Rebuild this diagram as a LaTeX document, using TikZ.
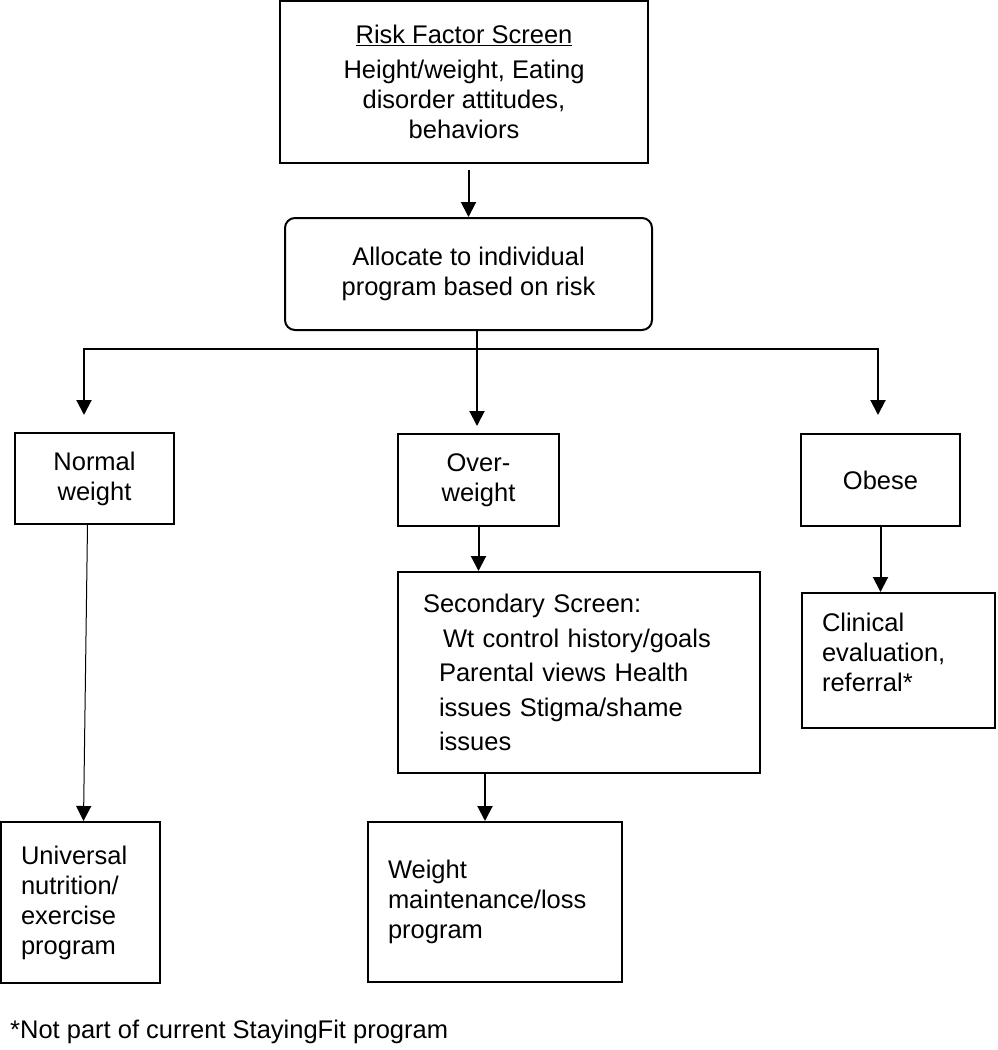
\documentclass[tikz,border=0pt]{standalone}
\usepackage{fontspec}
\setmainfont{Liberation Sans}
\usetikzlibrary{arrows.meta}

\tikzset{
  box/.style={draw, line width=2pt, inner sep=0pt, align=center,
    font=\fontsize{25.5}{30}\selectfont},
  leftbox/.style={box, align=left, inner xsep=20pt},
  arr/.style={line width=2pt, -{Stealth[inset=0pt,length=15pt,width=15pt]}},
}

\begin{document}
\begin{tikzpicture}[x=1pt,y=-1pt]
  \useasboundingbox (0,0) rectangle (997,1050);

  % top of the chart
  \node[box, minimum width=368pt, minimum height=162pt] (risk) at (464,82)
    {\underline{Risk Factor Screen}\\[5pt]Height/weight, Eating\\disorder attitudes,\\behaviors};
  \node[box, rounded corners=10pt, minimum width=367pt, minimum height=112pt] (alloc) at (468.5,274)
    {Allocate to individual\\program based on risk};

  % the three weight groups
  \node[box, minimum width=159pt, minimum height=91pt] (normal) at (94.5,478.5) {Normal\\weight};
  \node[box, minimum width=161pt, minimum height=92pt] (over) at (478.5,480) {Over-\\weight};
  \node[box, minimum width=159pt, minimum height=92pt] (obese) at (880.5,480) {Obese};

  \node[leftbox, inner xsep=25pt, text width=312pt, minimum height=201pt,
    font=\fontsize{25.5}{34.5}\selectfont] (second) at (579,672.5)
    {Secondary Screen:\\\hspace*{20pt}Wt control history/goals\\\hspace*{16pt}Parental views Health\\
     \hspace*{16pt}issues Stigma/shame\\\hspace*{16pt}issues};
  \node[leftbox, text width=153pt, minimum height=135pt, text depth=76pt] (clin) at (898.5,660.5)
    {Clinical\\evaluation,\\referral*};

  % programs
  \node[leftbox, text width=119pt, minimum height=161pt] (univ) at (80.5,902.5)
    {Universal\\nutrition/\\exercise\\program};
  \node[leftbox, text width=214pt, minimum height=160pt] (maint) at (495,902)
    {Weight\\maintenance/loss\\program};

  \node[anchor=west, inner sep=0pt, font=\fontsize{25.5}{30}\selectfont] (note) at (10,1032)
    {*Not part of current StayingFit program};

  % connectors
  \coordinate (split) at (477,349);
  \coordinate (lft) at (84,349);
  \coordinate (rgt) at (878,349);

  \path
    ([yshift=-6pt]risk.south -| alloc.north) edge[arr] (alloc.north)
    (split |- alloc.south) edge[arr, shorten >=7pt] (split |- over.north)
    (split) edge[arr, to path={-| (\tikztotarget)}, shorten >=17pt] (lft |- normal.north)
    (split) edge[arr, to path={-| (\tikztotarget)}, shorten >=18pt] (rgt |- obese.north)
    (over.south) edge[arr] (over.south |- second.north)
    ([xshift=-10pt]maint.north |- second.south) edge[arr] ([xshift=-10pt]maint.north)
    (obese.south) edge[arr] (obese.south |- clin.north);
  \draw[arr, line width=1pt] ([xshift=-7pt]normal.south) -- ([xshift=3pt]univ.north);
\end{tikzpicture}
\end{document}
